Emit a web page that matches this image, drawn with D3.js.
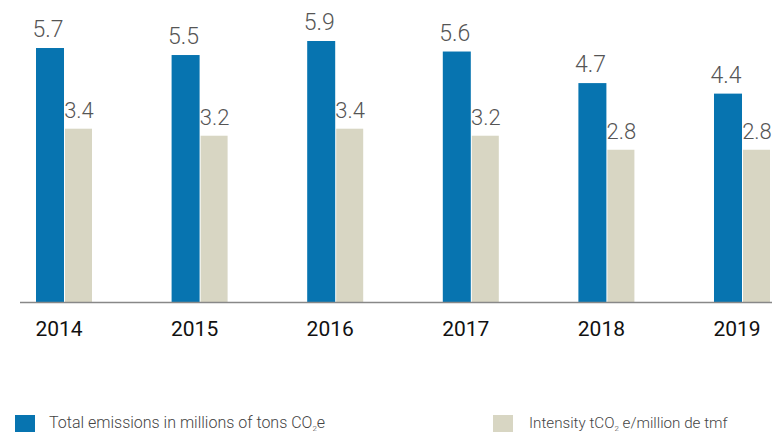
<!DOCTYPE html>
<html>
<head>
<meta charset="utf-8">
<script src="https://cdn.jsdelivr.net/npm/d3@7"></script>
<style>
  body { margin: 0; background: #fff; }
  svg { display: block; font-family: Roboto, "Noto Sans", sans-serif; }
</style>
</head>
<body>
<div id="chart"></div>
<script>
// Chart data
var years = ["2014", "2015", "2016", "2017", "2018", "2019"];
var totalEmissions = [5.7, 5.5, 5.9, 5.6, 4.7, 4.4];
var intensity = [3.4, 3.2, 3.4, 3.2, 2.8, 2.8];
// legend text split around the subscript "2"
var legendLabels = [
  ["Total emissions in millions of tons CO", "2", "e"],
  ["Intensity tCO", "2", " e/million de tmf"]
];

var width = 772;
var height = 432;
var baseY = 302;
var blue = "#0774b0";
var beige = "#d8d6c3";

var svg = d3.select("#chart").append("svg")
    .attr("width", width)
    .attr("height", height);

// Band for each year pair
var x = d3.scaleBand()
    .domain(years)
    .range([36, 770])
    .paddingInner(0.587)
    .paddingOuter(0);

var barW = x.bandwidth() / 2;

// Value axis does not start at zero in the original
var y = d3.scaleLinear()
    .domain([-1.54, 5.9])
    .range([baseY, 41]);

var rows = years.map(function(yr, i) {
  return { year: yr, total: totalEmissions[i], intensity: intensity[i] };
});

var groups = svg.selectAll(".yearGroup")
  .data(rows)
  .enter().append("g")
    .attr("class", "yearGroup")
    .attr("transform", function(d) { return "translate(" + x(d.year) + ",0)"; });

groups.append("rect")
    .attr("x", 0)
    .attr("y", function(d) { return y(d.total); })
    .attr("width", barW)
    .attr("height", function(d) { return baseY - y(d.total); })
    .attr("fill", blue);

groups.append("rect")
    .attr("x", barW + 1)
    .attr("y", function(d) { return y(d.intensity); })
    .attr("width", barW - 1)
    .attr("height", function(d) { return baseY - y(d.intensity); })
    .attr("fill", beige);

// Value labels
groups.append("text")
    .attr("x", barW / 2 - 2)
    .attr("y", function(d) { return y(d.total) - 11; })
    .attr("text-anchor", "middle")
    .style("font-size", "23px")
    .style("font-weight", 300)
    .style("fill", "#555")
    .text(function(d) { return d.total.toFixed(1); });

groups.append("text")
    .attr("x", barW * 1.5 + 1)
    .attr("y", function(d) { return y(d.intensity) - 11; })
    .attr("text-anchor", "middle")
    .style("font-size", "22px")
    .style("font-weight", 300)
    .style("fill", "#555")
    .text(function(d) { return d.intensity.toFixed(1); });

// Baseline
svg.append("line")
    .attr("x1", 20)
    .attr("x2", width)
    .attr("y1", baseY + 0.5)
    .attr("y2", baseY + 0.5)
    .attr("stroke", "#888")
    .attr("stroke-width", 1.5);

// Year labels
var xAxis = d3.axisBottom(x).tickSize(0).tickPadding(0);
var axisG = svg.append("g")
    .attr("transform", "translate(-5," + (baseY + 34) + ")")
    .call(xAxis);
axisG.select(".domain").remove();
axisG.selectAll("text")
    .attr("dy", 0)
    .style("font-family", "Roboto, sans-serif")
    .style("font-size", "21px")
    .style("fill", "#111");

// Legend
var legendX = [15, 493];
var legendColors = [blue, beige];
var legendSize = ["16px", "15.2px"];
var legend = svg.selectAll(".legendItem")
  .data(legendLabels)
  .enter().append("g")
    .attr("class", "legendItem")
    .attr("transform", function(d, i) { return "translate(" + legendX[i] + ",415)"; });

legend.append("rect")
    .attr("width", 20)
    .attr("height", 20)
    .attr("fill", function(d, i) { return legendColors[i]; });

var legendText = legend.append("text")
    .attr("x", function(d, i) { return i === 0 ? 34 : 36; })
    .attr("y", 13)
    .style("font-size", function(d, i) { return legendSize[i]; })
    .style("font-weight", 300)
    .style("fill", "#444");

legendText.append("tspan").text(function(d) { return d[0]; });
legendText.append("tspan")
    .attr("dy", 3)
    .style("font-size", "8px")
    .text(function(d) { return d[1]; });
legendText.append("tspan")
    .attr("dy", -3)
    .text(function(d) { return d[2]; });
</script>
</body>
</html>
